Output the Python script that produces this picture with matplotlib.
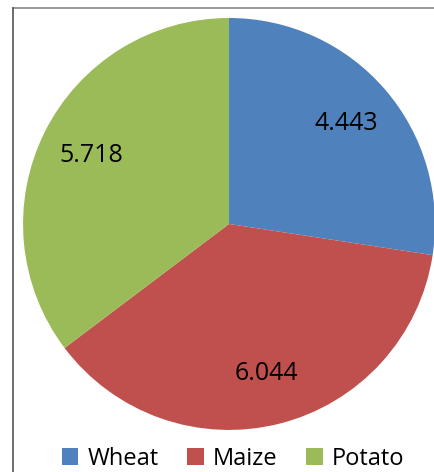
import matplotlib.pyplot as plt
from matplotlib.lines import Line2D
from matplotlib.patches import Patch

crops = ['Wheat', 'Maize', 'Potato']
values = [4.443, 6.044, 5.718]
colors = ['#4F81BD', '#C0504D', '#9BBB59']

plt.rcParams['font.family'] = ['Open Sans', 'DejaVu Sans']

fig = plt.figure(figsize=(4.35, 4.72), dpi=100)
ax = fig.add_axes([0.053, 0.089, 0.947, 0.873])

wedges, texts = ax.pie(values, colors=colors, startangle=90, counterclock=False,
                       labels=['%.3f' % v for v in values], labeldistance=0.75,
                       textprops={'fontsize': 18, 'ha': 'center', 'va': 'center'})
ax.set_aspect('equal')
ax.set_xlim(-1, 1)
ax.set_ylim(-1, 1)

# frame lines (top and left only, the rest is cropped)
fig.add_artist(Line2D([0.030, 1.0], [0.983, 0.983], color='#888888', lw=1.2))
fig.add_artist(Line2D([0.030, 0.030], [0.0, 0.983], color='#555555', lw=1.2))

handles = [Patch(facecolor=c) for c in colors]
fig.legend(handles, crops, loc='center', bbox_to_anchor=(0.536, 0.028), ncol=3,
           frameon=False, fontsize=17, handlelength=0.7, handleheight=0.7,
           handletextpad=0.4, columnspacing=1.2)

fig.savefig('out.png', dpi=100)
